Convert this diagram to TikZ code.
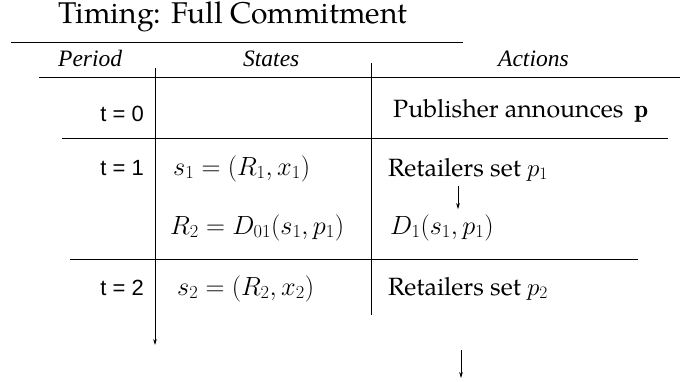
\RequirePackage{fix-cm}
\documentclass[tikz,border=0pt]{standalone}
\usepackage{fontspec}
\usepackage{amsmath,amssymb}
\usetikzlibrary{arrows.meta}
\newfontfamily\palfont{TeX Gyre Pagella}
\newfontfamily\timesfont{Liberation Serif}
\newfontfamily\helvfont{Liberation Sans}

\tikzset{
  colhead/.style={anchor=base west, inner sep=0pt,
    font=\timesfont\itshape\fontsize{23.5}{26}\selectfont},
  period/.style={anchor=base east, inner sep=0pt,
    font=\helvfont\fontsize{22}{26}\selectfont},
  entry/.style={anchor=base west, inner sep=0pt},
  formula/.style={entry, font=\fontsize{26.3}{30}\selectfont},
  rule/.style={line width=0.8pt},
  tip/.style={-{Stealth[length=6pt,width=3.6pt]}, line width=0.8pt}
}

\begin{document}
\begin{tikzpicture}[x=1pt,y=-1pt,font=\palfont\fontsize{25}{29}\selectfont]
        \useasboundingbox (0,0) rectangle (680,381);

        \node[entry,font=\palfont\fontsize{30}{34}\selectfont] (title) at (58,23)
        {Timing: Full Commitment};
        \draw[rule] (11,42) -- (463,42);

        % column heads
        \node[colhead] (hperiod) at (58,66) {Period};
        \node[colhead] (hstates) at (243,66) {States};
        \node[colhead] (hactions) at (498,66) {Actions};
        \draw[rule] (39,77) -- (680,77);

        % t = 0
        \node[period] (t0) at (144,121) {t = 0};
        \node[entry] (announce) at (393,117) {Publisher announces\hspace{11pt}$\mathbf{p}$};
        \draw[rule] (62,138) -- (668,138);

        % t = 1
        \node[period] (t1) at (144,175) {t = 1};
        \node[formula] (s1) at (173,175) {$s_1 = (R_1, x_1)$};
        \node[entry] (ret1) at (388,176) {Retailers set $p_1$};
        \node[formula] (r2) at (170,234) {$R_2 = D_{01}(s_1, p_1)$};
        \node[formula] (d1) at (390,234) {$D_1(s_1, p_1)$};
        \coordinate (stepx) at (458,0);
        \draw[tip,line width=0.6pt,shorten <=5pt,shorten >=5pt]
        (ret1.south -| stepx) -- (d1.north -| stepx);
        \draw[rule] (70,259) -- (638,259);

        % t = 2
        \node[period] (t2) at (144,295) {t = 2};
        \node[formula] (s2) at (177,295) {$s_2 = (R_2, x_2)$};
        \node[entry] (ret2) at (388,295) {Retailers set $p_2$};

        % column rules and time arrows
        \coordinate (clock top) at (155,68); \coordinate (clock end) at (155,345);
        \draw[tip] (clock top) -- (clock end);
        \draw[line width=0.6pt] (371,63) -- (371,315);
        \coordinate (next top) at (461,350); \coordinate (next end) at (461,378);
        \draw[tip,line width=0.6pt] (next top) -- (next end);
\end{tikzpicture}
\end{document}
